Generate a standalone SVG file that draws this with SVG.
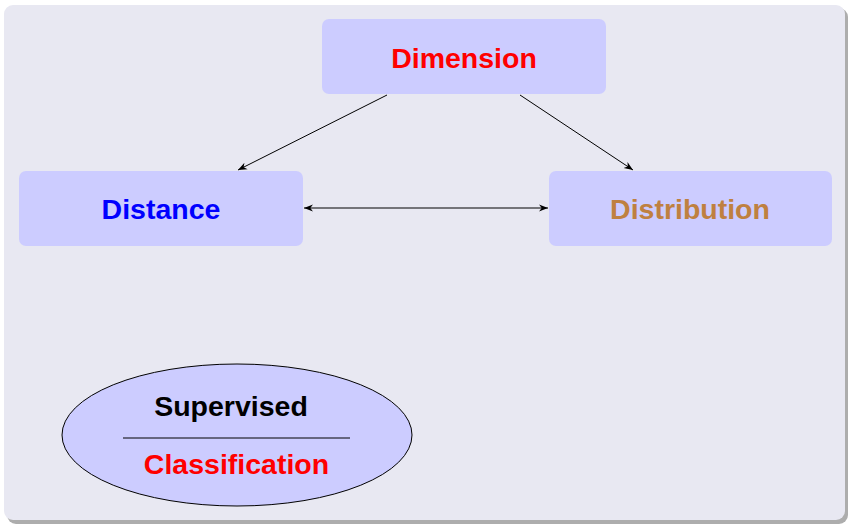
<svg xmlns="http://www.w3.org/2000/svg" width="849" height="525" viewBox="0 0 849 525">
<defs>
<marker id="ah" viewBox="0 0 10 10" refX="10" refY="5" markerWidth="9" markerHeight="9" markerUnits="userSpaceOnUse" orient="auto-start-reverse">
<path d="M0,1 L10,5 L0,9 L3,5 Z" fill="#000"/>
</marker>
</defs>
<style>
.box{fill:#ccccff}
.t{font-family:"Liberation Sans",Arial,sans-serif;font-weight:bold;font-size:28.5px;text-anchor:middle}
.c{stroke:#000;stroke-width:1;fill:none}
</style>
<rect x="0" y="0" width="849" height="525" fill="#ffffff"/>
<rect x="7" y="8" width="841" height="516" rx="9" fill="#8a8a8a" opacity="0.7"/>
<rect x="4" y="5" width="841" height="515" rx="9" fill="#e8e8f2"/>
<g id="connectors">
<line class="c" x1="387" y1="95" x2="238" y2="170" marker-end="url(#ah)"/>
<line class="c" x1="520" y1="95" x2="633" y2="170" marker-end="url(#ah)"/>
<line class="c" x1="304" y1="208" x2="548" y2="208" marker-start="url(#ah)" marker-end="url(#ah)"/>
</g>
<g id="dimension">
<rect class="box" x="322" y="19" width="284" height="75" rx="7"/>
<text class="t" x="464" y="68" fill="#ff0000">Dimension</text>
</g>
<g id="distance">
<rect class="box" x="19" y="171" width="284" height="75" rx="7"/>
<text class="t" x="161" y="219" fill="#0000ff">Distance</text>
</g>
<g id="distribution">
<rect class="box" x="549" y="171" width="283" height="75" rx="7"/>
<text class="t" x="690" y="219" fill="#bf8040">Distribution</text>
</g>
<g id="supervised">
<ellipse cx="237" cy="435" rx="175" ry="71" fill="#ccccff" stroke="#000" stroke-width="1"/>
<line x1="123" y1="438" x2="350" y2="438" stroke="#000" stroke-width="1"/>
<text class="t" x="231" y="416" fill="#000000" font-size="26.5">Supervised</text>
<text class="t" x="236.5" y="474" fill="#ff0000" font-size="26.5">Classification</text>
</g>
</svg>
